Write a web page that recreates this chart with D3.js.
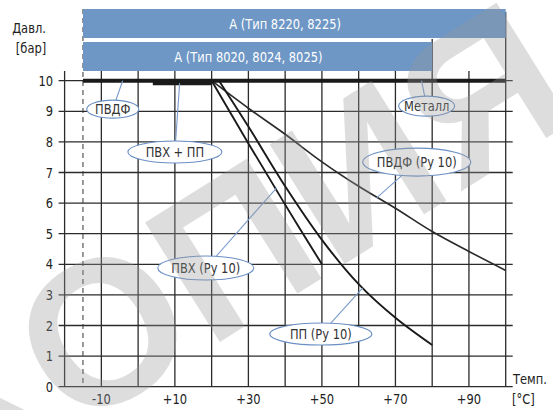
<!DOCTYPE html>
<html><head><meta charset="utf-8">
<script src="https://cdn.jsdelivr.net/npm/d3@7"></script>
<style>body{margin:0;background:#fff}svg{display:block}</style>
</head><body><svg id="c" width="553" height="410"></svg>
<script>
// ---------- data ----------
const tempGrid = [-20,-10,0,10,20,30,40,50,60,70,80,90,100];
const tempLabelValues = [-10,10,30,50,70,90];
const pressureTicks = [0,1,2,3,4,5,6,7,8,9,10];

const pvdfTemp = [20,30,40,50,60,70,80,90,100];
const pvdfPressure = [10,9.1,8.25,7.35,6.55,5.83,5.07,4.42,3.8];
const pvcTemp = [20,30,40,50];
const pvcPressure = [10,7.95,5.95,4.0];
const ppTemp = [22,30,40,50,60,70,80];
const ppPressure = [10,8.5,6.55,4.8,3.35,2.25,1.36];

const metalTemp = [-15,100];
const metalPressure = [10,10];
const pvcPpTemp = [4,20];
const pvcPpPressure = [9.92,9.92];

const bandLabels = ["A  (Тип 8220, 8225)","A (Тип 8020, 8024, 8025)"];
const bandFrom = [-15,-15];
const bandTo = [100,80];

const annText = ["ПВДФ","ПВХ + ПП","Металл","ПВДФ (Ру 10)","ПВХ (Ру 10)","ПП (Ру 10)"];
const annCenterT = [-6.9,10,78.5,75.8,18.4,49.7];
const annCenterP = [9.07,7.67,9.17,7.34,3.88,1.72];
const annTargetT = [-4.2,11.3,77.1,64.9,37.7,61.1];
const annTargetP = [10,9.92,10,6.17,6.5,3.23];

// ---------- layout ----------
const svg = d3.select("#c");
const x = d3.scaleLinear().domain([-20,100]).range([64.6,505.7]);
const y = d3.scaleLinear().domain([0,10]).range([386.7,80.7]);
const FONT = "'Liberation Sans Narrow','DejaVu Sans Condensed','Liberation Sans',sans-serif";
const SX = 0.88;
const gridColor = "#2b2b2b";
const bandY = [9,42], bandH = 29;
const annRx = [26,47,28,54,48,51];
const annRy = [9,11,10,14,12,11];

function addText(parent, px, py, str, anchor, fill){
  parent.append("g").attr("transform",`translate(${px},${py}) scale(${SX},1)`)
    .append("text").attr("text-anchor",anchor||"start").attr("fill",fill||"#222")
    .style("font-family",FONT).style("font-size","14.5px").text(str);
}

const gGrid = svg.append("g");
gGrid.selectAll("line.h").data(pressureTicks).join("line")
  .attr("x1", x(-20)-6).attr("x2", x(100)+7)
  .attr("y1", d=>y(d)).attr("y2", d=>y(d))
  .attr("stroke", gridColor).attr("stroke-width",1.3);
function vTop(t){
  if (t===bandTo[0]) return bandY[0]+3;
  if (t===bandTo[1]) return bandY[1]-3;
  return bandY[1]+bandH;
}
gGrid.selectAll("line.v").data(tempGrid).join("line")
  .attr("x1", d=>x(d)).attr("x2", d=>x(d))
  .attr("y1", d=>vTop(d)).attr("y2", y(0))
  .attr("stroke", gridColor).attr("stroke-width",1.3);
svg.append("line").attr("x1",x(-15)).attr("x2",x(-15))
  .attr("y1",bandY[0]).attr("y2",y(0))
  .attr("stroke","#333").attr("stroke-width",1).attr("stroke-dasharray","5,4");

// bands
bandLabels.forEach((lab,i)=>{
  svg.append("rect").attr("x",x(bandFrom[i])).attr("y",bandY[i])
    .attr("width",x(bandTo[i])-x(bandFrom[i])).attr("height",bandH)
    .attr("fill","#6e97c6");
  addText(svg,(x(-20)+x(bandTo[i]))/2,bandY[i]+bandH/2+5,lab,"middle","#fff");
});

// curves
const line = d3.line().x(d=>x(d[0])).y(d=>y(d[1])).curve(d3.curveCatmullRom.alpha(0.5));
const curves = [
  {t:pvdfTemp,p:pvdfPressure,w:1.6,c:"#2a2a2a"},
  {t:pvcTemp,p:pvcPressure,w:1.9,c:"#1a1a1a"},
  {t:ppTemp,p:ppPressure,w:1.9,c:"#1a1a1a"}
];
curves.forEach(cv=>{
  svg.append("path").datum(d3.zip(cv.t,cv.p)).attr("d",line)
    .attr("fill","none").attr("stroke",cv.c).attr("stroke-width",cv.w);
});
const straight = d3.line().x(d=>x(d[0])).y(d=>y(d[1]));
svg.append("path").datum(d3.zip(metalTemp,metalPressure)).attr("d",straight)
  .attr("stroke","#1a1a1a").attr("stroke-width",4).attr("fill","none");
svg.append("path").datum(d3.zip(pvcPpTemp,pvcPpPressure)).attr("d",straight)
  .attr("stroke","#1a1a1a").attr("stroke-width",4).attr("fill","none");

// annotations
annText.forEach((t,i)=>{
  const cx=x(annCenterT[i]), cy=y(annCenterP[i]);
  const tx=x(annTargetT[i]), ty=y(annTargetP[i]);
  const rx=annRx[i], ry=annRy[i];
  const dx=tx-cx, dy=ty-cy;
  const k=1/Math.sqrt((dx*dx)/(rx*rx)+(dy*dy)/(ry*ry));
  svg.append("line").attr("x1",cx+dx*k).attr("y1",cy+dy*k).attr("x2",tx).attr("y2",ty)
    .attr("stroke","#7a9ccb").attr("stroke-width",1.1);
  svg.append("ellipse").attr("cx",cx).attr("cy",cy).attr("rx",rx).attr("ry",ry)
    .attr("fill","#fff").attr("stroke","#6a8fc4").attr("stroke-width",1.1);
  addText(svg,cx,cy+5,t,"middle","#333");
});

// axis labels
pressureTicks.forEach(d=>addText(svg,53,y(d)+5,String(d),"end"));
tempLabelValues.forEach(d=>addText(svg,x(d),404,(d>0?"+":"")+d,"middle"));
addText(svg,29,33,"Давл.","middle");
addText(svg,31,53,"[бар]","middle");
addText(svg,513,384,"Темп.","start");
addText(svg,512,404,"[°C]","start");

// watermark
svg.append("text").attr("transform","translate(237,247) rotate(-32)")
  .attr("text-anchor","middle").attr("dominant-baseline","central")
  .attr("fill","#999").attr("fill-opacity",0.33)
  .style("font-family","'Liberation Sans',sans-serif").style("font-weight","bold").style("font-size","205px")
  .text("КОПИЯ");
</script></body></html>
